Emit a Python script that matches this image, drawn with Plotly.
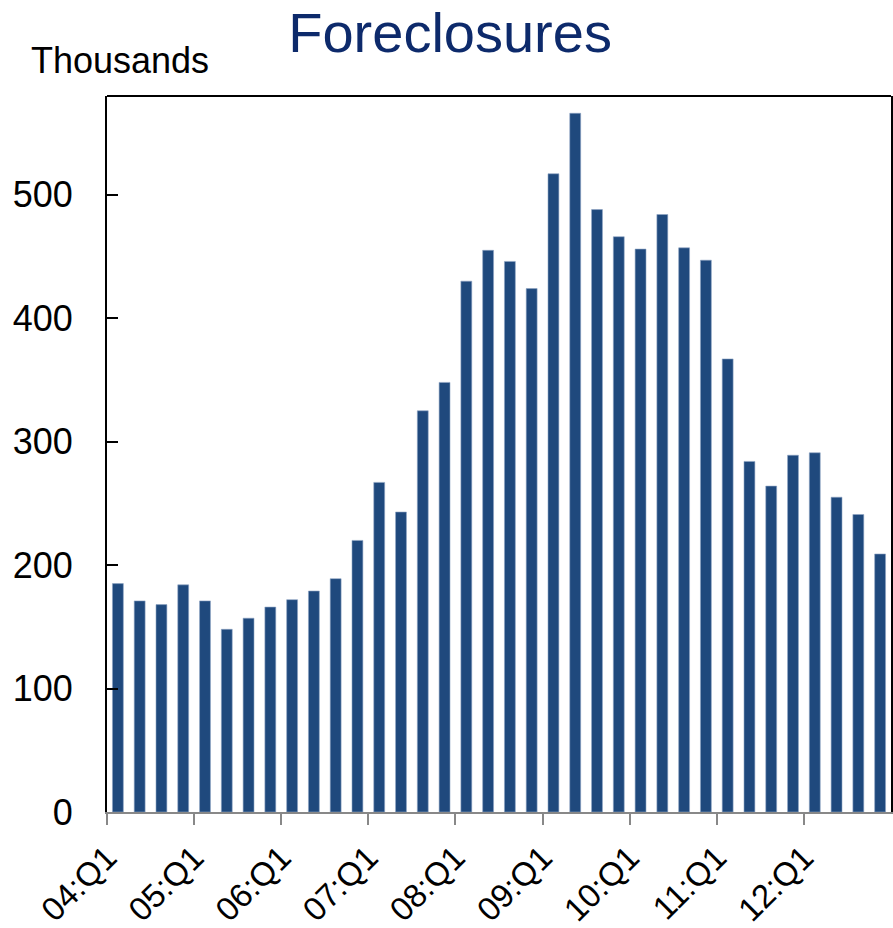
import plotly.graph_objects as go

quarters = [f"{y:02d}:Q{q}" for y in range(4, 13) for q in range(1, 5)]
foreclosures = [185, 171, 168, 184, 171, 148, 157, 166,
                172, 179, 189, 220, 267, 243, 325, 348,
                430, 455, 446, 424, 517, 566, 488, 466,
                456, 484, 457, 447, 367, 284, 264, 289,
                291, 255, 241, 209]
tick_labels = ["04:Q1", "05:Q1", "06:Q1", "07:Q1", "08:Q1",
               "09:Q1", "10:Q1", "11:Q1", "12:Q1"]
y_ticks = [0, 100, 200, 300, 400, 500]

xpos = [i + 0.5 for i in range(len(quarters))]

fig = go.Figure()
fig.add_trace(go.Bar(
    x=xpos, y=foreclosures, width=0.5,
    marker=dict(color="#1F497D", line=dict(color="#8FA4C4", width=0.6)),
    customdata=quarters, hovertemplate="%{customdata}: %{y}<extra></extra>",
))

fig.update_layout(
    width=893, height=928,
    margin=dict(l=107, r=2, t=96, b=116),
    plot_bgcolor="white", paper_bgcolor="white",
    showlegend=False,
    font=dict(family="Liberation Sans, Arial, sans-serif", color="black"),
    title=dict(text="Foreclosures", x=0.504, xanchor="center", y=0.9655, yanchor="middle",
               font=dict(size=56, color="#0D2A6B")),
    annotations=[dict(text="Thousands", xref="paper", yref="paper", x=-0.1, y=1.050,
                      xanchor="left", yanchor="middle", showarrow=False,
                      font=dict(size=36, color="black"))],
    bargap=0.5,
)
fig.update_xaxes(
    range=[0, 36], tickmode="array", tickvals=[0, 4, 8, 12, 16, 20, 24, 28, 32],
    ticktext=tick_labels, tickangle=-45, ticks="outside", ticklen=11, tickwidth=2,
    tickcolor="#888888", showline=True, linecolor="#888888", linewidth=2,
    showgrid=False, zeroline=False, tickfont=dict(size=33), automargin=False,
)
fig.update_yaxes(
    range=[0, 580], tickvals=y_ticks, ticks="inside", ticklen=11, tickwidth=2,
    tickcolor="black", showline=True, linecolor="black", linewidth=2, mirror=True,
    showgrid=False, zeroline=False, tickfont=dict(size=36), ticklabelstandoff=25,
    automargin=False,
)
fig.add_shape(type="line", xref="paper", yref="paper", x0=0, x1=1, y0=1, y1=1,
              line=dict(color="black", width=2))

fig.write_html("out.html", post_script="document.body.style.margin='0';",
               config={"displayModeBar": False})
